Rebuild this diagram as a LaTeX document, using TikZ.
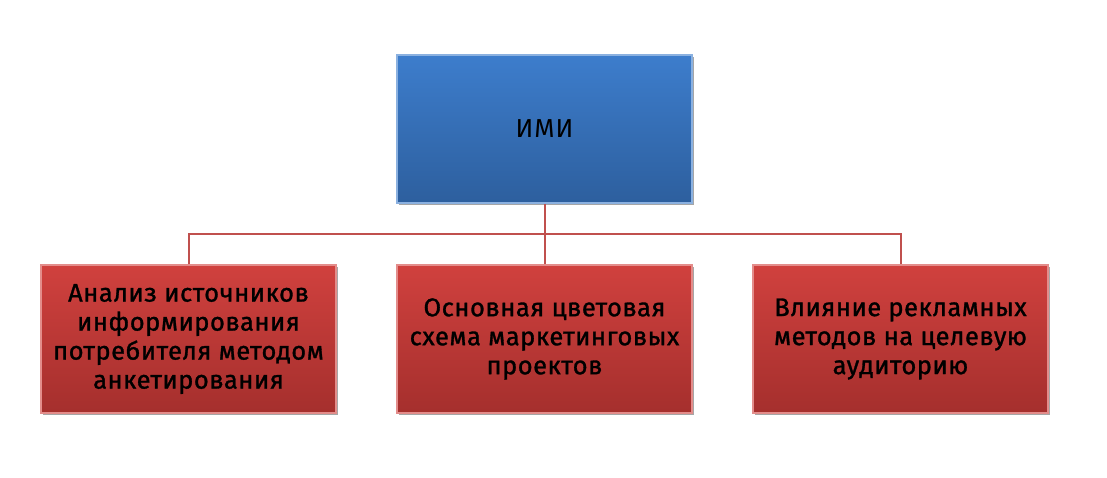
\documentclass[tikz,border=0pt]{standalone}
\usepackage{fontspec}
\setmainfont{Fira Sans}
\newfontfamily\leaffont{Fira Sans}[FakeBold=1.2, LetterSpace=2]
\usetikzlibrary{shadows}
\definecolor{bluetop}{HTML}{3D7DCC}
\definecolor{bluebot}{HTML}{2D5F9E}
\definecolor{redtop}{HTML}{D0413E}
\definecolor{redbot}{HTML}{A52F2D}
\definecolor{linecol}{HTML}{C0504D}
\tikzset{
  topbox/.style={minimum width=295pt, minimum height=148pt, inner sep=0pt,
    top color=bluetop, bottom color=bluebot, draw=bluetop!60!white, line width=1.5pt,
    drop shadow={shadow xshift=1.5pt, shadow yshift=-2pt, opacity=0.35, fill=black},
    font=\fontsize{26}{29}\selectfont\addfontfeature{LetterSpace=4}},
  leafbox/.style={minimum width=295pt, minimum height=148pt, inner sep=0pt,
    top color=redtop, bottom color=redbot, draw=redtop!60!white, line width=1.5pt,
    drop shadow={shadow xshift=1.5pt, shadow yshift=-2pt, opacity=0.35, fill=black},
    align=center, font=\leaffont\fontsize{25.5}{29}\selectfont},
  conn/.style={draw=linecol, line width=2pt}
}
\begin{document}
\begin{tikzpicture}[x=1pt,y=-1pt]
\useasboundingbox (0,0) rectangle (1107,477);
\node[topbox] (root) at (544.5,129) {ИМИ};
\node[leafbox] (a) at (188.5,339) {Анализ источников\\информирования\\потребителя методом\\анкетирования};
\node[leafbox] (b) at (544.5,339) {Основная цветовая\\схема маркетинговых\\проектов};
\node[leafbox] (c) at (900.5,339) {Влияние рекламных\\методов на целевую\\аудиторию};
\coordinate (bar) at (544.5,234);
\draw[conn] (root.south) -- (b.north);
\draw[conn] (a.north) |- (bar) -| (c.north);
\end{tikzpicture}
\end{document}
